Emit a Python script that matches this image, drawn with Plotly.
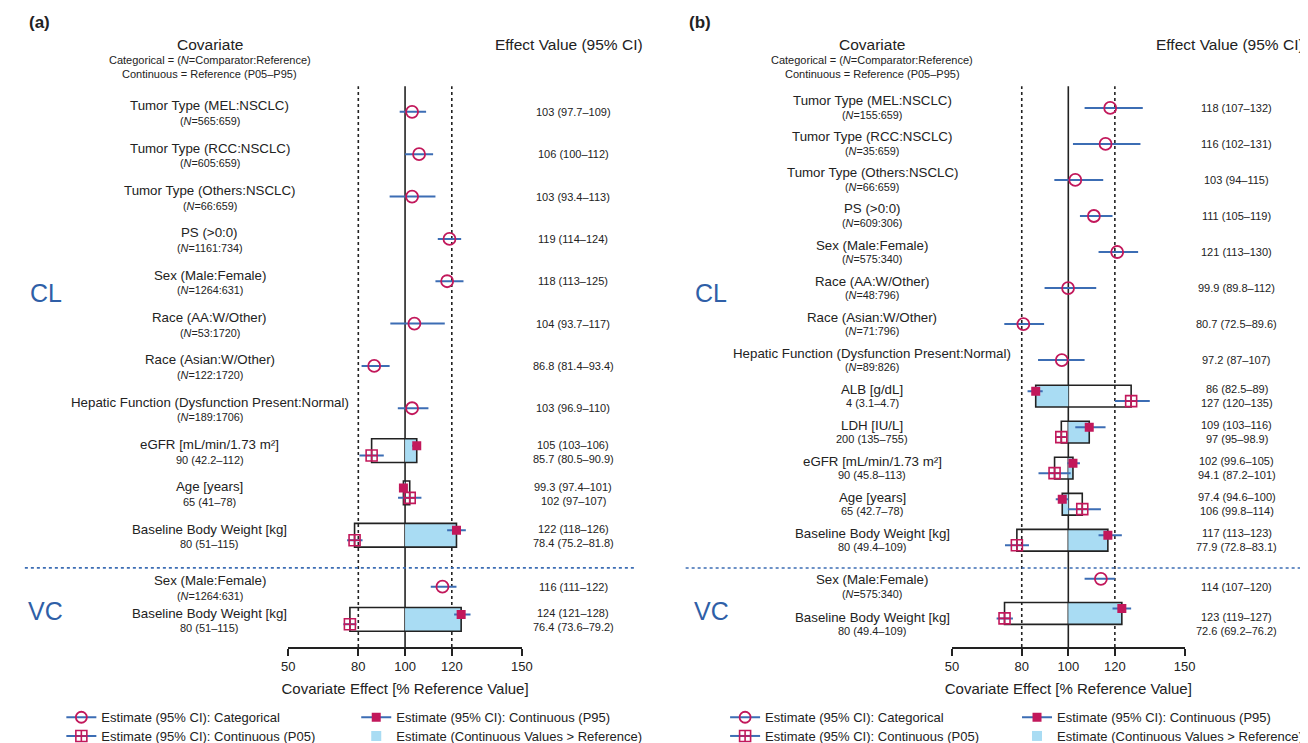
import plotly.graph_objects as go

W, H = 1308, 743
FONT = "Liberation Sans, Arial, Helvetica, sans-serif"
RED = "#C2185B"
BLUE = "#3C6DB4"
FILL = "#A9DCF3"
TXT = "#222222"
GROUP_BLUE = "#2F5FA7"

# ---------------- data: panel (a) ----------------
a_cat_labels = ["Tumor Type (MEL:NSCLC)", "Tumor Type (RCC:NSCLC)", "Tumor Type (Others:NSCLC)",
                "PS (>0:0)", "Sex (Male:Female)", "Race (AA:W/Other)", "Race (Asian:W/Other)",
                "Hepatic Function (Dysfunction Present:Normal)"]
a_cat_n = ["565:659", "605:659", "66:659", "1161:734", "1264:631", "53:1720", "122:1720", "189:1706"]
a_cat_est = [103, 106, 103, 119, 118, 104, 86.8, 103]
a_cat_lo = [97.7, 100, 93.4, 114, 113, 93.7, 81.4, 96.9]
a_cat_hi = [109, 112, 113, 124, 125, 117, 93.4, 110]

a_cont_labels = ["eGFR [mL/min/1.73 m²]", "Age [years]", "Baseline Body Weight [kg]"]
a_cont_ref = [90, 65, 80]
a_cont_p05 = [42.2, 41, 51]
a_cont_p95 = [112, 78, 115]
a_p95_est = [105, 99.3, 122]
a_p95_lo = [103, 97.4, 118]
a_p95_hi = [106, 101, 126]
a_p05_est = [85.7, 102, 78.4]
a_p05_lo = [80.5, 97, 75.2]
a_p05_hi = [90.9, 107, 81.8]

a_vc_cat_labels = ["Sex (Male:Female)"]
a_vc_cat_n = ["1264:631"]
a_vc_cat_est = [116]
a_vc_cat_lo = [111]
a_vc_cat_hi = [122]
a_vc_cont_labels = ["Baseline Body Weight [kg]"]
a_vc_cont_ref = [80]
a_vc_cont_p05 = [51]
a_vc_cont_p95 = [115]
a_vc_p95_est = [124]
a_vc_p95_lo = [121]
a_vc_p95_hi = [128]
a_vc_p05_est = [76.4]
a_vc_p05_lo = [73.6]
a_vc_p05_hi = [79.2]

# ---------------- data: panel (b) ----------------
b_cat_labels = ["Tumor Type (MEL:NSCLC)", "Tumor Type (RCC:NSCLC)", "Tumor Type (Others:NSCLC)",
                "PS (>0:0)", "Sex (Male:Female)", "Race (AA:W/Other)", "Race (Asian:W/Other)",
                "Hepatic Function (Dysfunction Present:Normal)"]
b_cat_n = ["155:659", "35:659", "66:659", "609:306", "575:340", "48:796", "71:796", "89:826"]
b_cat_est = [118, 116, 103, 111, 121, 99.9, 80.7, 97.2]
b_cat_lo = [107, 102, 94, 105, 113, 89.8, 72.5, 87]
b_cat_hi = [132, 131, 115, 119, 130, 112, 89.6, 107]

b_cont_labels = ["ALB [g/dL]", "LDH [IU/L]", "eGFR [mL/min/1.73 m²]", "Age [years]",
                 "Baseline Body Weight [kg]"]
b_cont_ref = [4, 200, 90, 65, 80]
b_cont_p05 = [3.1, 135, 45.8, 42.7, 49.4]
b_cont_p95 = [4.7, 755, 113, 78, 109]
b_p95_est = [86, 109, 102, 97.4, 117]
b_p95_lo = [82.5, 103, 99.6, 94.6, 113]
b_p95_hi = [89, 116, 105, 100, 123]
b_p05_est = [127, 97, 94.1, 106, 77.9]
b_p05_lo = [120, 95, 87.2, 99.8, 72.8]
b_p05_hi = [135, 98.9, 101, 114, 83.1]

b_vc_cat_labels = ["Sex (Male:Female)"]
b_vc_cat_n = ["575:340"]
b_vc_cat_est = [114]
b_vc_cat_lo = [107]
b_vc_cat_hi = [120]
b_vc_cont_labels = ["Baseline Body Weight [kg]"]
b_vc_cont_ref = [80]
b_vc_cont_p05 = [49.4]
b_vc_cont_p95 = [109]
b_vc_p95_est = [123]
b_vc_p95_lo = [119]
b_vc_p95_hi = [127]
b_vc_p05_est = [72.6]
b_vc_p05_lo = [69.2]
b_vc_p05_hi = [76.2]

tick_vals = [50, 80, 100, 120, 150]
ref_lines = [80, 120]
ref_value = 100
x_title = "Covariate Effect [% Reference Value]"
legend_names = ["Estimate (95% CI): Categorical", "Estimate (95% CI): Continuous (P95)",
                "Estimate (95% CI): Continuous (P05)", "Estimate (Continuous Values > Reference)"]


def fmt(v):
    return f"{v:.3g}"


def eff(e, lo, hi):
    return f"{fmt(e)} ({fmt(lo)}\u2013{fmt(hi)})"


fig = go.Figure()
shapes, annotations = [], []

# plot area in pixels (top / bottom of the forest region)
TOP_PX, BOT_PX = 79, 646


def px2py(px):
    return 1 - px / H


def panel(ax, ay, cfg, d):
    xref = "x" if ax == 1 else f"x{ax}"
    yref = "y" if ay == 1 else f"y{ay}"
    n_cat = len(d["cat_labels"])
    n_cont = len(d["cont_labels"])
    cl_rows = [cfg["first"] + cfg["step"] * i for i in range(n_cat + n_cont)]
    last = cl_rows[-1]
    sep = last + cfg["sep"]
    # text rows and mark rows of the VC block
    cat_rows_t = cl_rows[:n_cat] + [last + cfg["vc1"]]
    cont_rows_t = cl_rows[n_cat:] + [last + cfg["vc2"]]
    cat_rows = cl_rows[:n_cat] + [last + cfg["vc1m"]]
    cont_rows = cl_rows[n_cat:] + [last + cfg["vc2m"]]

    cat_est = d["cat_est"] + d["vc_cat_est"]
    cat_lo = d["cat_lo"] + d["vc_cat_lo"]
    cat_hi = d["cat_hi"] + d["vc_cat_hi"]
    cat_labels = d["cat_labels"] + d["vc_cat_labels"]
    cat_n = d["cat_n"] + d["vc_cat_n"]
    p95 = d["p95_est"] + d["vc_p95_est"]
    p95lo = d["p95_lo"] + d["vc_p95_lo"]
    p95hi = d["p95_hi"] + d["vc_p95_hi"]
    p05 = d["p05_est"] + d["vc_p05_est"]
    p05lo = d["p05_lo"] + d["vc_p05_lo"]
    p05hi = d["p05_hi"] + d["vc_p05_hi"]
    cont_labels = d["cont_labels"] + d["vc_cont_labels"]
    cref = d["cont_ref"] + d["vc_cont_ref"]
    cp05 = d["cont_p05"] + d["vc_cont_p05"]
    cp95 = d["cont_p95"] + d["vc_cont_p95"]

    off = 5
    hb = cfg["box"]

    # boxes
    for r, e95, e05 in zip(cont_rows, p95, p05):
        shapes.append(dict(type="rect", xref=xref, yref=yref, x0=ref_value, x1=e95,
                           y0=r - hb, y1=r + hb, fillcolor=FILL, line=dict(width=0), layer="below"))
        shapes.append(dict(type="rect", xref=xref, yref=yref, x0=e05, x1=e95,
                           y0=r - hb, y1=r + hb, fillcolor="rgba(0,0,0,0)",
                           line=dict(color=TXT, width=1.6), layer="below"))
    # reference lines
    for xv in ref_lines:
        shapes.append(dict(type="line", xref=xref, yref=f"{yref} domain", x0=xv, x1=xv, y0=0, y1=1,
                           line=dict(color=TXT, width=1.6, dash="dot"), layer="below"))
    shapes.append(dict(type="line", xref=xref, yref=f"{yref} domain", x0=ref_value, x1=ref_value,
                       y0=0, y1=1, line=dict(color=TXT, width=1.6), layer="below"))
    # separator
    shapes.append(dict(type="line", xref="paper", yref=yref, x0=cfg["sep_x0"] / W, x1=cfg["sep_x1"] / W,
                       y0=sep, y1=sep, line=dict(color=BLUE, width=1.6, dash="dot"), layer="below"))

    # traces
    fig.add_trace(go.Scatter(
        x=cat_est, y=cat_rows, mode="markers", xaxis=xref, yaxis=yref, showlegend=False,
        marker=dict(symbol="circle-open", size=12, color=RED, line=dict(width=1.8)),
        error_x=dict(type="data", symmetric=False,
                     array=[h - e for h, e in zip(cat_hi, cat_est)],
                     arrayminus=[e - l for e, l in zip(cat_est, cat_lo)],
                     color=BLUE, thickness=2, width=0)))
    fig.add_trace(go.Scatter(
        x=p95, y=[r - off for r in cont_rows], mode="markers", xaxis=xref, yaxis=yref, showlegend=False,
        marker=dict(symbol="square", size=9, color=RED),
        error_x=dict(type="data", symmetric=False,
                     array=[h - e for h, e in zip(p95hi, p95)],
                     arrayminus=[e - l for e, l in zip(p95, p95lo)],
                     color=BLUE, thickness=2, width=0)))
    fig.add_trace(go.Scatter(
        x=p05, y=[r + off for r in cont_rows], mode="markers", xaxis=xref, yaxis=yref, showlegend=False,
        marker=dict(symbol="square-cross-open", size=11, color=RED, line=dict(width=1.6)),
        error_x=dict(type="data", symmetric=False,
                     array=[h - e for h, e in zip(p05hi, p05)],
                     arrayminus=[e - l for e, l in zip(p05, p05lo)],
                     color=BLUE, thickness=2, width=0)))

    lx = cfg["label_cx"] / W
    ex = cfg["eff_cx"] / W

    def ann(x, y, text, size, yshift=0):
        annotations.append(dict(x=x, y=y, xref="paper", yref=yref, text=text, showarrow=False,
                                xanchor="center", yanchor="middle", yshift=yshift,
                                font=dict(size=size, color=TXT)))

    # categorical labels
    for r, lab, n, e, lo, hi in zip(cat_rows_t, cat_labels, cat_n, cat_est, cat_lo, cat_hi):
        ann(lx, r, lab, 13.3, cfg["lab_up"])
        ann(lx, r, f"(<i>N</i>={n})", 10.8, -cfg["sub_dn"])
        ann(ex, r, eff(e, lo, hi), 11)
    # continuous labels
    for i, r in enumerate(cont_rows_t):
        ann(lx, r, cont_labels[i], 13.3, cfg["lab_up"])
        ann(lx, r, f"{fmt(cref[i])} ({fmt(cp05[i])}\u2013{fmt(cp95[i])})", 11, -cfg["sub_dn"])
        ann(ex, r, eff(p95[i], p95lo[i], p95hi[i]), 11, cfg["eff_up"])
        ann(ex, r, eff(p05[i], p05lo[i], p05hi[i]), 11, -cfg["eff_dn"])

    # headers
    def pa(x, y, text, size, xanchor="center", color=TXT):
        annotations.append(dict(x=x / W, y=px2py(y), xref="paper", yref="paper", text=text,
                                showarrow=False, xanchor=xanchor, yanchor="middle",
                                font=dict(size=size, color=color)))
    pa(cfg["tag_x"], 15, f"<b>{cfg['tag']}</b>", 17, "left")
    pa(cfg["label_cx"], 37, "Covariate", 15.5)
    pa(cfg["label_cx"], 53, "Categorical = (<i>N</i>=Comparator:Reference)", 11)
    pa(cfg["label_cx"], 67, "Continuous = Reference (P05\u2013P95)", 11)
    pa(cfg["eff_head_x"], 37, "Effect Value (95% CI)", cfg["eff_head_size"], cfg["eff_head_anchor"])
    pa(cfg["grp_x"], 288, "CL", 25, color=GROUP_BLUE)
    pa(cfg["grp_x"], 610, "VC", 25, color=GROUP_BLUE)

    # axes
    axx = dict(domain=[cfg["x50"] / W, cfg["x150"] / W], range=[50, 150], anchor=yref,
               showline=True, linecolor=TXT, linewidth=1.6, ticks="outside", ticklen=7, tickwidth=1.6,
               tickcolor=TXT, tickvals=tick_vals, tickfont=dict(size=13, color=TXT),
               showgrid=False, zeroline=False, fixedrange=True,
               title=dict(text=x_title, font=dict(size=15, color=TXT), standoff=10))
    axy = dict(domain=[px2py(BOT_PX), px2py(TOP_PX)], range=[BOT_PX, TOP_PX], anchor=xref,
               visible=False, showgrid=False, zeroline=False, fixedrange=True)
    fig.update_layout(**{("xaxis" if ax == 1 else f"xaxis{ax}"): axx,
                         ("yaxis" if ay == 1 else f"yaxis{ay}"): axy})

    # legends
    specs = [
        dict(mode="lines+markers", line=dict(color=BLUE, width=2),
             marker=dict(symbol="circle-open", size=11, color=RED, line=dict(width=1.8))),
        dict(mode="lines+markers", line=dict(color=BLUE, width=2),
             marker=dict(symbol="square", size=9, color=RED)),
        dict(mode="lines+markers", line=dict(color=BLUE, width=2),
             marker=dict(symbol="square-cross-open", size=11, color=RED, line=dict(width=1.6))),
        dict(mode="markers", marker=dict(symbol="square", size=10, color=FILL)),
    ]
    pos = [(cfg["leg_x1"], 717), (cfg["leg_x2"], 717), (cfg["leg_x1"], 736), (cfg["leg_x2"], 736)]
    for k, (name, sp, (lxp, lyp)) in enumerate(zip(legend_names, specs, pos)):
        lid = cfg["leg_base"] + k
        lname = "legend" if lid == 1 else f"legend{lid}"
        fig.add_trace(go.Scatter(x=[None], y=[None], name=name, xaxis=xref, yaxis=yref,
                                 showlegend=True, legend=lname, **sp))
        fig.update_layout(**{lname: dict(x=lxp / W, y=px2py(lyp), xanchor="left", yanchor="middle",
                                         bgcolor="rgba(0,0,0,0)", borderwidth=0,
                                         font=dict(size=13, color=TXT, family=FONT))})


cfg_a = dict(first=105, step=42.8, sep=33, vc1=52, vc2=85, vc1m=52, vc2m=85, box=12,
             sep_x0=10, sep_x1=628,
             label_cx=197.5, eff_cx=566, lab_up=6, sub_dn=9, eff_up=6, eff_dn=8,
             tag="(a)", tag_x=12, eff_head_x=562, eff_head_anchor="center", eff_head_size=15.5,
             grp_x=31, x50=277, x150=514, leg_x1=47, leg_x2=346, leg_base=1)
cfg_b = dict(first=101, step=36.42, sep=28, vc1=47, vc2=85, vc1m=39, vc2m=74, box=11,
             sep_x0=680, sep_x1=1308,
             label_cx=869, eff_cx=1239, lab_up=7, sub_dn=7, eff_up=7, eff_dn=7,
             tag="(b)", tag_x=681, eff_head_x=1155, eff_head_anchor="left", eff_head_size=15.5,
             grp_x=706, x50=950, x150=1186, leg_x1=720, leg_x2=1016, leg_base=5)

data_a = dict(cat_labels=a_cat_labels, cat_n=a_cat_n, cat_est=a_cat_est, cat_lo=a_cat_lo, cat_hi=a_cat_hi,
              cont_labels=a_cont_labels, cont_ref=a_cont_ref, cont_p05=a_cont_p05, cont_p95=a_cont_p95,
              p95_est=a_p95_est, p95_lo=a_p95_lo, p95_hi=a_p95_hi,
              p05_est=a_p05_est, p05_lo=a_p05_lo, p05_hi=a_p05_hi,
              vc_cat_labels=a_vc_cat_labels, vc_cat_n=a_vc_cat_n, vc_cat_est=a_vc_cat_est,
              vc_cat_lo=a_vc_cat_lo, vc_cat_hi=a_vc_cat_hi,
              vc_cont_labels=a_vc_cont_labels, vc_cont_ref=a_vc_cont_ref,
              vc_cont_p05=a_vc_cont_p05, vc_cont_p95=a_vc_cont_p95,
              vc_p95_est=a_vc_p95_est, vc_p95_lo=a_vc_p95_lo, vc_p95_hi=a_vc_p95_hi,
              vc_p05_est=a_vc_p05_est, vc_p05_lo=a_vc_p05_lo, vc_p05_hi=a_vc_p05_hi)
data_b = dict(cat_labels=b_cat_labels, cat_n=b_cat_n, cat_est=b_cat_est, cat_lo=b_cat_lo, cat_hi=b_cat_hi,
              cont_labels=b_cont_labels, cont_ref=b_cont_ref, cont_p05=b_cont_p05, cont_p95=b_cont_p95,
              p95_est=b_p95_est, p95_lo=b_p95_lo, p95_hi=b_p95_hi,
              p05_est=b_p05_est, p05_lo=b_p05_lo, p05_hi=b_p05_hi,
              vc_cat_labels=b_vc_cat_labels, vc_cat_n=b_vc_cat_n, vc_cat_est=b_vc_cat_est,
              vc_cat_lo=b_vc_cat_lo, vc_cat_hi=b_vc_cat_hi,
              vc_cont_labels=b_vc_cont_labels, vc_cont_ref=b_vc_cont_ref,
              vc_cont_p05=b_vc_cont_p05, vc_cont_p95=b_vc_cont_p95,
              vc_p95_est=b_vc_p95_est, vc_p95_lo=b_vc_p95_lo, vc_p95_hi=b_vc_p95_hi,
              vc_p05_est=b_vc_p05_est, vc_p05_lo=b_vc_p05_lo, vc_p05_hi=b_vc_p05_hi)

panel(1, 1, cfg_a, data_a)
panel(2, 2, cfg_b, data_b)

fig.update_layout(width=W, height=H, margin=dict(l=0, r=0, t=0, b=0),
                  paper_bgcolor="white", plot_bgcolor="white",
                  font=dict(family=FONT, color=TXT),
                  shapes=shapes, annotations=annotations)

fig.write_html("out.html")
